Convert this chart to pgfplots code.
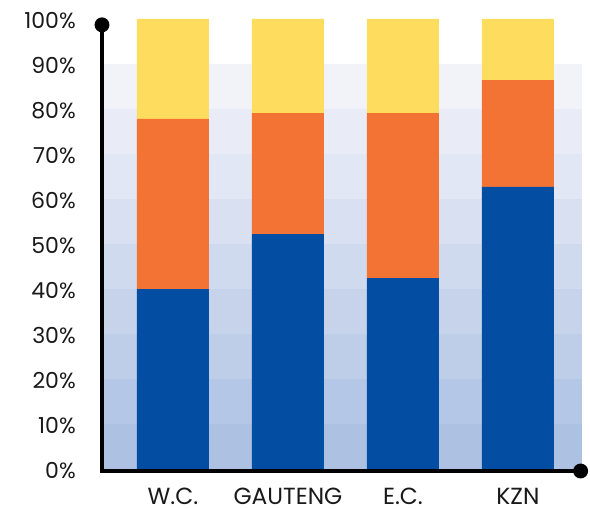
\documentclass[border=0pt]{standalone}
\usepackage{pgfplots}
\pgfplotsset{compat=1.18}
\usepackage{fontspec}
\setmainfont{Poppins}

\definecolor{BarBlue}{HTML}{034EA2}
\definecolor{BarOrange}{HTML}{F37335}
\definecolor{BarYellow}{HTML}{FEDD5E}
\definecolor{BandLow}{HTML}{ADC1E3}
\definecolor{BandHigh}{HTML}{F2F3F9}

\pgfplotsset{frame/.style={
    at={(0,0)}, anchor=south west,
    scale only axis, width=360pt, height=337.5pt,
    xmin=-0.617, xmax=3.557, ymin=0, ymax=100,
    clip=false}}

\begin{document}
\begin{tikzpicture}[x=0.75pt,y=0.75pt]
  % background bands
  \begin{axis}[frame, hide axis]
    \pgfplotsinvokeforeach{0,...,8}{
      \fill[BandLow!\the\numexpr(800-#1*100)/8\relax!BandHigh]
        (axis cs:-0.617,#1*10) rectangle (axis cs:3.557,#1*10+10);
    }
  \end{axis}
  \begin{axis}[
      frame,
      ybar stacked, bar width=0.626,
      axis line style={draw=none},
      tick style={draw=none},
      /pgf/number format/assume math mode=true,
      xtick={0,1,2,3},
      xticklabels={W.C.,GAUTENG,E.C.,KZN},
      ytick={0,10,...,100},
      yticklabel={\pgfmathprintnumber{\tick}\%},
      tick label style={text=black!90},
      yticklabel style={font=\fontsize{16.5}{19}\selectfont,
        inner sep=0pt, anchor=east, xshift=-19.5pt, yshift=-1.5pt},
      xticklabel style={font=\fontsize{17.5}{20}\selectfont,
        inner sep=0pt, anchor=north, yshift=-14pt},
    ]
    \addplot[fill=BarBlue, draw=none] coordinates {(0,40.0) (1,52.2) (2,42.4) (3,62.7)};
    \addplot[fill=BarOrange, draw=none] coordinates {(0,37.8) (1,26.9) (2,36.7) (3,23.7)};
    \addplot[fill=BarYellow, draw=none] coordinates {(0,22.2) (1,20.9) (2,20.9) (3,13.6)};
    \coordinate (top) at (axis cs:-0.617,98.7);
    \coordinate (corner) at ([yshift=-1.5pt]axis cs:-0.617,0);
    \coordinate (right) at ([yshift=-1.5pt]axis cs:3.557,0);
    \coordinate (rdot) at ([yshift=-1.5pt]axis cs:3.545,0);
  \end{axis}
  % axis lines with dot ends
  \draw[line width=3pt, line join=miter] (top) -- (corner) -- (right);
  \fill (top) circle[radius=5.6pt];
  \fill (rdot) circle[radius=5.6pt];
  \pgfresetboundingbox
  \path[use as bounding box] (-102,-39) rectangle (488,469);
\end{tikzpicture}
\end{document}
